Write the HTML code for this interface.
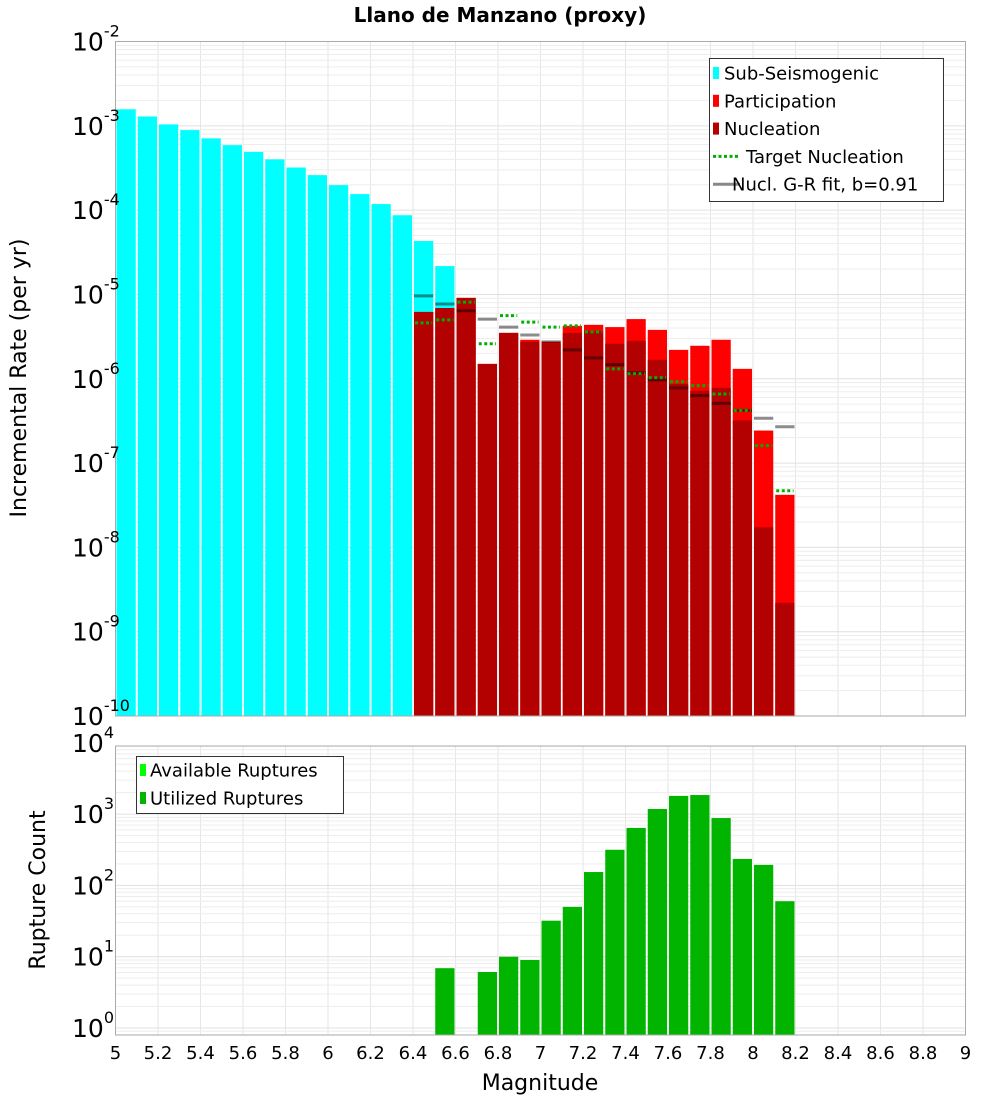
<!DOCTYPE html>
<html><head><meta charset="utf-8"><style>
body{margin:0;background:#fff}
svg{font-family:"DejaVu Sans","Liberation Sans",sans-serif}
</style></head><body>
<svg id="c" width="1000" height="1100" xmlns="http://www.w3.org/2000/svg"></svg>
<script>
const binStarts=[5.0,5.1,5.2,5.3,5.4,5.5,5.6,5.7,5.8,5.9,6.0,6.1,6.2,6.3,6.4,6.5,6.6,6.7,6.8,6.9,7.0,7.1,7.2,7.3,7.4,7.5,7.6,7.7,7.8,7.9,8.0,8.1];
const subSeis=[1.57e-3,1.29e-3,1.04e-3,8.9e-4,7.1e-4,5.9e-4,4.9e-4,4.0e-4,3.2e-4,2.6e-4,1.98e-4,1.55e-4,1.18e-4,8.7e-5,4.3e-5,2.17e-5];
const redMags=[6.4,6.5,6.6,6.7,6.8,6.9,7.0,7.1,7.2,7.3,7.4,7.5,7.6,7.7,7.8,7.9,8.0,8.1];
const participation=[6.2e-6,6.9e-6,9.1e-6,1.5e-6,3.5e-6,2.9e-6,2.75e-6,4.24e-6,4.36e-6,4.1e-6,5.1e-6,3.8e-6,2.2e-6,2.46e-6,2.9e-6,1.31e-6,2.43e-7,4.2e-8];
const nucleation=[6.2e-6,6.9e-6,9.1e-6,1.5e-6,3.5e-6,2.74e-6,2.6e-6,3.5e-6,3.7e-6,2.6e-6,2.82e-6,1.68e-6,8.7e-7,7.2e-7,7.8e-7,3.2e-7,1.73e-8,2.2e-9];
const targetNucl=[4.6e-6,5.0e-6,8.1e-6,2.6e-6,5.6e-6,4.7e-6,4.1e-6,4.24e-6,3.6e-6,1.31e-6,1.15e-6,1.03e-6,9.2e-7,8.3e-7,6.6e-7,4.2e-7,1.61e-7,4.7e-8];
const grFit=[9.6e-6,7.7e-6,6.4e-6,5.1e-6,4.1e-6,3.3e-6,2.74e-6,2.2e-6,1.77e-6,1.47e-6,1.18e-6,9.7e-7,7.8e-7,6.3e-7,5.1e-7,4.2e-7,3.4e-7,2.7e-7];
const countMags=[6.5,6.7,6.8,6.9,7.0,7.1,7.2,7.3,7.4,7.5,7.6,7.7,7.8,7.9,8.0,8.1];
const utilized=[6.9,6.1,10,9,32,50,154,316,640,1180,1800,1850,880,235,194,60];
const xTicks=[5,5.2,5.4,5.6,5.8,6,6.2,6.4,6.6,6.8,7,7.2,7.4,7.6,7.8,8,8.2,8.4,8.6,8.8,9];
const topExps=[-2,-3,-4,-5,-6,-7,-8,-9,-10];
const botExps=[4,3,2,1,0];

const S=document.getElementById('c');const NS='http://www.w3.org/2000/svg';
function mk(t,a,p){const e=document.createElementNS(NS,t);for(const k in a)e.setAttribute(k,a[k]);(p||S).appendChild(e);return e;}
const L=115.5,R=965.5;
const X=m=>L+(m-5)/4*(R-L);
const T0=41.5,T1=716;const Ytop=v=>T0+(-2-Math.log10(v))*(T1-T0)/8;
const B0=746,B1=1035;const Ybot=v=>1028-Math.log10(v)*71.3;

function grid(y0,y1,yf,lo,hi){
  for(let m=5;m<=9.001;m+=0.2){const l=mk('line',{x1:X(m),x2:X(m),y1:y0,y2:y1,stroke:'#e6e6e6','stroke-width':1});
  }
  for(let e=lo;e<hi;e++)for(let k=1;k<10;k++){const y=yf(k*Math.pow(10,e));if(y<y0||y>y1)continue;
   const l=mk('line',{x1:L,x2:R,y1:y,y2:y,stroke:k==1?'#e0e0e0':'#ededed','stroke-width':1});
   }
}
grid(T0,T1,Ytop,-10,-2);grid(B0,B1,Ybot,-1,4);

function bar(m,v,fill,yf,base,name){const x=X(m)+1,w=X(m+0.1)-X(m)-2,y=yf(v);
 const r=mk('rect',{x:x,y:y,width:w,height:base-y,fill:fill});
 }
subSeis.forEach((v,i)=>bar(binStarts[i],v,'#00ffff',Ytop,T1,'sub-seismogenic-bar'));
participation.forEach((v,i)=>bar(redMags[i],v,'#ff0000',Ytop,T1,'participation-bar'));
nucleation.forEach((v,i)=>bar(redMags[i],v,'#b30000',Ytop,T1,'nucleation-bar'));
grFit.forEach((v,i)=>{const y=Ytop(v);const l=mk('line',{x1:X(redMags[i])+1,x2:X(redMags[i]+0.1)-1,y1:y,y2:y,stroke:'#000','stroke-opacity':0.45,'stroke-width':3});
 });
targetNucl.forEach((v,i)=>{const y=Ytop(v);const l=mk('line',{x1:X(redMags[i])+2,x2:X(redMags[i]+0.1)-2,y1:y,y2:y,stroke:'#00b000','stroke-width':3,'stroke-dasharray':'3,2.5'});
 });
utilized.forEach((v,i)=>bar(countMags[i],v,'#00b400',Ybot,B1,'utilized-ruptures-bar'));

[[T0,T1],[B0,B1]].forEach(([a,b])=>{const r=mk('rect',{x:L,y:a,width:R-L,height:b-a,fill:'none',stroke:'#aaa','stroke-width':1});
 });

function yLabel(y,e,name){const t=mk('text',{x:107,y:y+9,'text-anchor':'end','font-size':25,fill:'#000'});
 
 t.textContent='10';const s=mk('tspan',{dy:-14,'font-size':16},t);s.textContent=String(e);
 t.setAttribute('x',72);t.setAttribute('text-anchor','start');}
topExps.forEach(e=>yLabel(Ytop(Math.pow(10,e)),e,'y-tick-label'));
botExps.forEach(e=>yLabel(Ybot(Math.pow(10,e)),e,'count-y-tick-label'));
xTicks.forEach(m=>{const t=mk('text',{x:X(m),y:1059,'text-anchor':'middle','font-size':18});
 
 t.textContent=String(m);});

function txt(s,a,name){const t=mk('text',a);t.textContent=s;return t;}
txt('Llano de Manzano (proxy)',{x:500,y:22,'text-anchor':'middle','font-size':20,'font-weight':'bold'},'chart-title');
txt('Incremental Rate (per yr)',{x:0,y:0,transform:'translate(26,378) rotate(-90)','text-anchor':'middle','font-size':22},'y-axis-title');
txt('Rupture Count',{x:0,y:0,transform:'translate(45,890) rotate(-90)','text-anchor':'middle','font-size':22},'count-y-axis-title');
txt('Magnitude',{x:540,y:1090,'text-anchor':'middle','font-size':22},'x-axis-title');

// legends
const lg=mk('rect',{x:709.5,y:58.5,width:234,height:143,fill:'#fff',stroke:'#333','stroke-width':1});

const ents=[['Sub-Seismogenic','#00ffff','box'],['Participation','#ff0000','box'],['Nucleation','#b30000','box'],['Target Nucleation','#00b000','dot'],['Nucl. G-R fit, b=0.91','#888','line']];
ents.forEach((e,i)=>{const y=73+i*27.8;
 if(e[2]=='box'){const r=mk('rect',{x:713,y:y-6,width:6,height:12,fill:e[1]});}
 else{const l=mk('line',{x1:713,x2:740,y1:y,y2:y,stroke:e[1],'stroke-width':3,'stroke-dasharray':e[2]=='dot'?'3,2.5':'none'});}
 txt(e[0],{x:e[2]=='box'?724:(e[2]=='dot'?746:732),y:y+6.5,'font-size':18},'legend-entry');});
const lg2=mk('rect',{x:136.5,y:756.5,width:207,height:57,fill:'#fff',stroke:'#333','stroke-width':1});

[['Available Ruptures','#00ff00'],['Utilized Ruptures','#00b400']].forEach((e,i)=>{const y=770+i*28;
 const r=mk('rect',{x:140,y:y-6,width:6,height:12,fill:e[1]});
 txt(e[0],{x:150,y:y+6.5,'font-size':18},'legend-entry');});
</script>
</body></html>
